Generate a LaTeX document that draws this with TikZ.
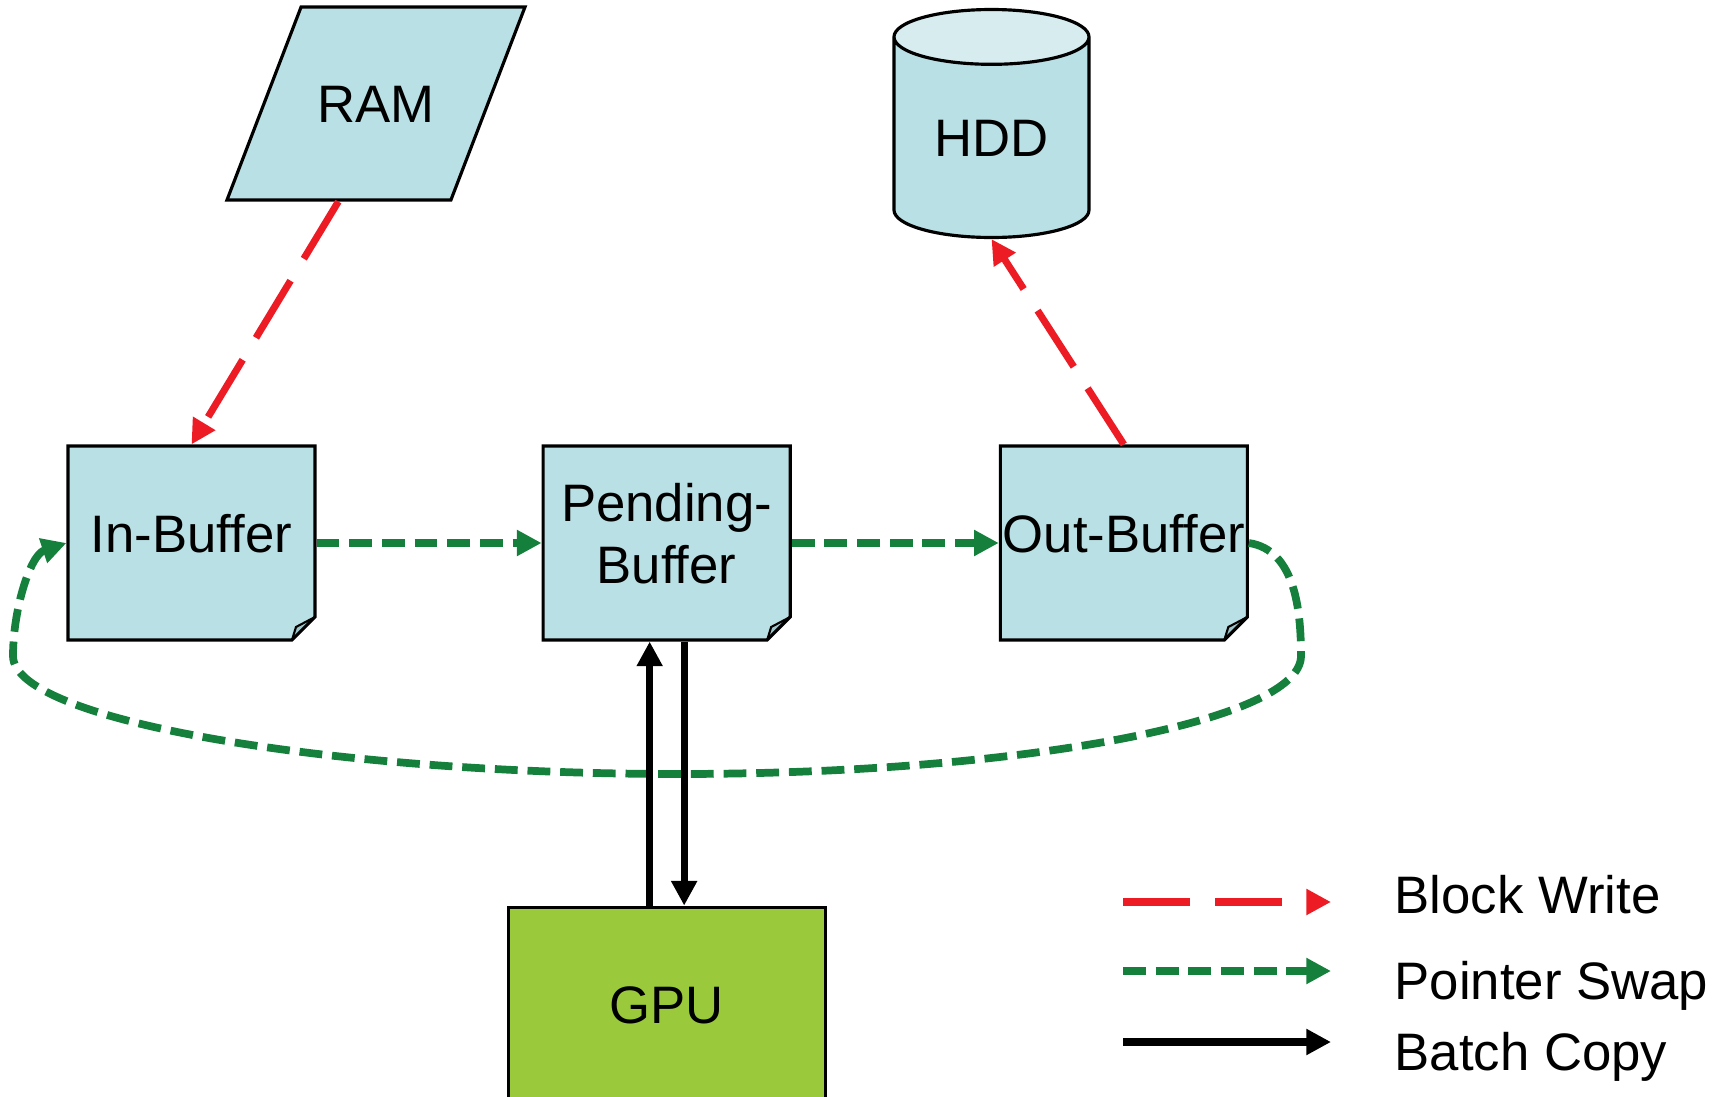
\documentclass[tikz,border=0pt]{standalone}
\usepackage{fontspec}
\setmainfont{Liberation Sans}
\usetikzlibrary{arrows.meta,positioning,shapes.geometric,shapes.misc}
\definecolor{BufFill}{HTML}{B9E0E4}
\definecolor{BufFold}{HTML}{9DC4C9}
\definecolor{DiskTop}{HTML}{D6ECEE}
\definecolor{GpuGreen}{HTML}{9ACA3C}
\definecolor{WriteRed}{HTML}{ED1C24}
\definecolor{SwapGreen}{HTML}{14803C}

\begin{document}
\begin{tikzpicture}[
    font=\fontsize{15}{17.6}\selectfont,
    buffer/.style={chamfered rectangle,chamfered rectangle corners=south east,chamfered rectangle sep=0.115cm,draw=black,line width=0.9pt,fill=BufFill,minimum width=2.47cm,minimum height=1.94cm,align=center,inner sep=0pt,inner xsep=-0.12cm,text depth=0.2cm,
      path picture={\filldraw[fill=BufFold,draw=black,line width=0.6pt] ([yshift=0.23cm]path picture bounding box.south east) -- ([xshift=-0.23cm]path picture bounding box.south east) -- ([xshift=-0.19cm,yshift=0.13cm]path picture bounding box.south east) -- cycle;}},
    ram/.style={trapezium,trapezium left angle=69,trapezium right angle=111,trapezium stretches body=true,draw=black,line width=0.9pt,fill=BufFill,text height=1.155cm,text depth=0.775cm,inner sep=0pt,minimum width=2.98cm},
    disk/.style={cylinder,shape border rotate=90,aspect=0.48,draw=black,line width=0.9pt,cylinder uses custom fill,cylinder body fill=BufFill,cylinder end fill=DiskTop,minimum width=1.95cm,minimum height=2.28cm,inner sep=0pt},
    gpu/.style={draw=black,line width=0.9pt,fill=GpuGreen,minimum width=3.17cm,minimum height=1.96cm,inner sep=0pt},
    blockwrite/.style={-{Triangle[length=7pt,width=7pt]},line width=2pt,WriteRed,dash pattern=on 19pt off 7.3pt},
    ptrswap/.style={-{Triangle[length=7pt,width=7pt]},line width=2.2pt,SwapGreen,dash pattern=on 6.5pt off 2.8pt},
    batchcopy/.style={-{Triangle[length=7pt,width=7pt]},line width=2pt,black},
    legtext/.style={anchor=base west,inner sep=0pt}
  ]
    \useasboundingbox (0,0) rectangle (17.14,-10.97);

    \node[buffer] (inbuf) at (1.915,-5.43) {In-Buffer};
    \node[buffer,right=2.25cm of inbuf] (pendbuf) {Pending-\\Buffer};
    \node[buffer,right=2.07cm of pendbuf] (outbuf) {Out-Buffer};
    \node[ram] (ram) at (3.76,-1.035) {RAM};
    \node[disk] (hdd) at (9.915,-1.38) {HDD};
    \node[gpu,below=2.64cm of pendbuf] (gpu) {GPU};

    \draw[blockwrite] (ram.bottom side) -- (inbuf.north);
    \draw[blockwrite] (outbuf.north) -- (hdd.south);
    \draw[ptrswap] (inbuf.east) -- (pendbuf.west);
    \draw[ptrswap] (pendbuf.east) -- (outbuf.west);
    % loop back from out-buffer to in-buffer
    \draw[ptrswap] (outbuf.east) .. controls (12.95,-5.50) and (13.01,-6.10) .. (13.01,-6.56)
      .. controls (13.01,-7.21) and (10.22,-7.74) .. (6.78,-7.74)
      .. controls (3.34,-7.74) and (0.13,-7.21) .. (0.13,-6.56)
      .. controls (0.13,-6.10) and (0.30,-5.55) .. (inbuf.west);
    \draw[batchcopy] ([xshift=-0.17cm]gpu.north) -- ([xshift=-0.17cm]pendbuf.south);
    \draw[batchcopy] ([xshift=0.175cm]pendbuf.south) -- ([xshift=0.175cm]gpu.north);

    % legend
    \coordinate (lgw1) at (11.23,-9.02);
    \coordinate (lgw2) at (13.31,-9.02);
    \coordinate (lgs1) at (11.23,-9.71);
    \coordinate (lgs2) at (13.31,-9.71);
    \coordinate (lgc1) at (11.23,-10.42);
    \coordinate (lgc2) at (13.31,-10.42);
    \draw[blockwrite] (lgw1) -- (lgw2);
    \draw[ptrswap] (lgs1) -- (lgs2);
    \draw[batchcopy] (lgc1) -- (lgc2);
    \node[legtext] (lgwtext) at (13.94,-9.13) {Block Write};
    \node[legtext] (lgstext) at (13.94,-9.99) {Pointer Swap};
    \node[legtext] (lgctext) at (13.94,-10.70) {Batch Copy};
  \end{tikzpicture}
\end{document}
